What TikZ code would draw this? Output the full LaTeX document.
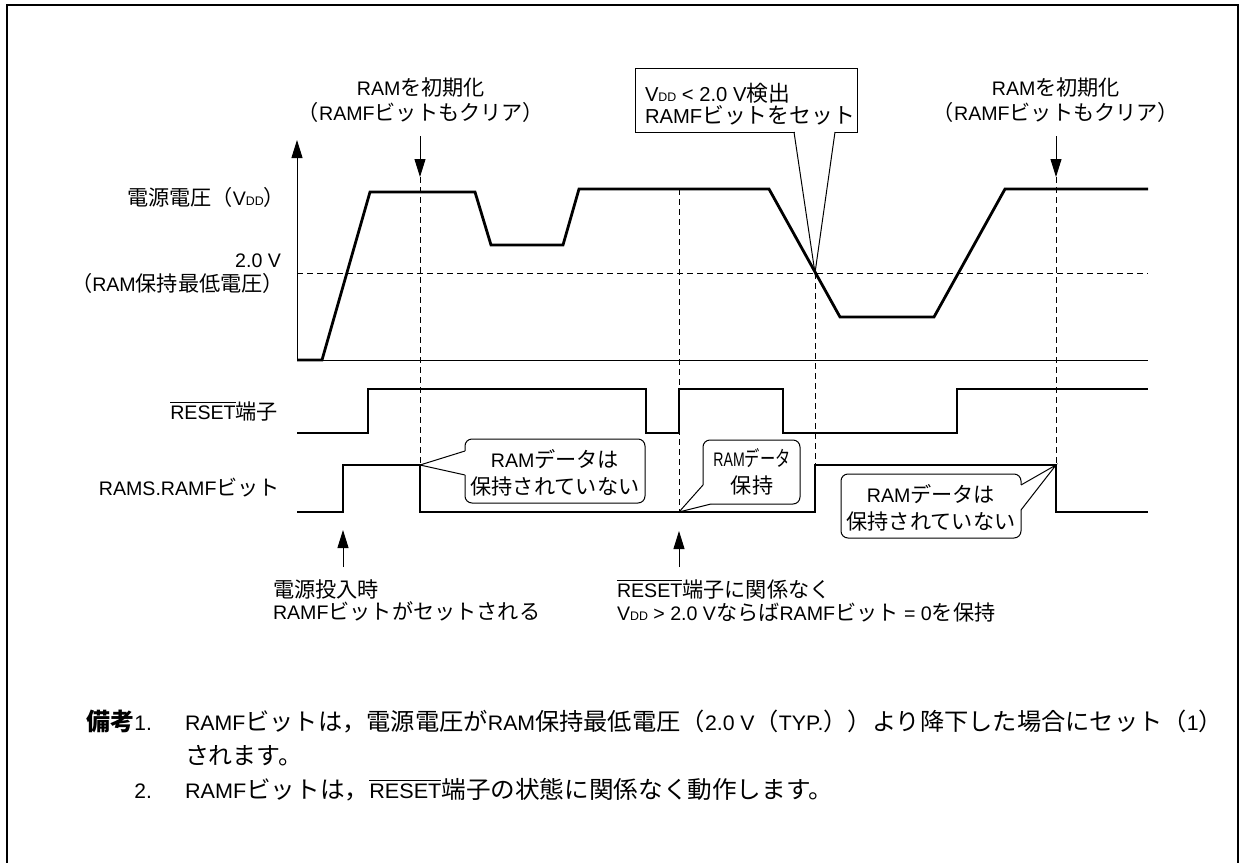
\documentclass[tikz,border=0pt]{standalone}
\usepackage{fontspec}
\usepackage{graphicx}
\setmainfont{Liberation Sans}
\newfontfamily\jpfont{Noto Sans CJK JP}[Scale=1.08]
\newfontfamily\jpfontN{Noto Sans CJK JP}[Scale=1.14]
\let\jpsel\jpfont
\usetikzlibrary{arrows.meta}
% automatic switch to the Japanese font for CJK characters
\XeTeXinterchartokenstate=1
\newXeTeXintercharclass\JPclass
\makeatletter
\def\jpsetrange#1#2{\count@=#1\relax
  \loop\XeTeXcharclass\count@=\JPclass\relax
  \ifnum\count@<#2\relax\advance\count@\@ne\repeat}
\jpsetrange{"3000}{"30FF}
\jpsetrange{"4E00}{"9FFF}
\jpsetrange{"FF00}{"FFEF}
\makeatother
\XeTeXinterchartoks 0 \JPclass = {\begingroup\jpsel}
\XeTeXinterchartoks 4095 \JPclass = {\begingroup\jpsel}
\XeTeXinterchartoks \JPclass 0 = {\endgroup}
\XeTeXinterchartoks \JPclass 4095 = {\endgroup}
\newcommand\ovl[1]{$\overline{\mbox{#1}}$}
\newcommand\vdd{V{\fontsize{6.2}{6}\selectfont DD}}
\begin{document}
\begin{tikzpicture}[x=0.5pt,y=-0.5pt,
  every node/.style={inner sep=0pt, outer sep=0pt},
  lab/.style={font=\fontsize{9.8}{11}\selectfont},
  biglab/.style={font=\fontsize{10.1}{12}\selectfont},
  note/.style={font={\fontsize{10.5}{13}\selectfont\let\jpsel\jpfontN}},
  wave/.style={line width=1.4pt, line join=miter},
  thinln/.style={line width=0.5pt},
  dashln/.style={line width=0.5pt, dash pattern=on 3pt off 2pt},
  arr/.style={line width=0.5pt, -{Triangle[length=9pt,width=5.5pt]}},
  bubble/.style={line width=0.5pt, rounded corners=3.5pt}]
\useasboundingbox (0,0) rectangle (1239,863);
% frame
\draw[line width=1.3pt] (7,880) -- (7,5) -- (1238,5) -- (1238,880);

% axis and reference lines
\coordinate (O) at (297,360);
\coordinate (ytop) at (297,140);
\coordinate (xend) at (1148,360);
\draw[arr] (O) -- (ytop);
\draw[thinln] (O) -- (xend);
\draw[dashln] (297,273) -- (1148,273);
\draw[dashln] (420,177) -- (420,465);
\draw[dashln] (679,189) -- (679,512);
\draw[dashln] (815,273) -- (815,465);
\draw[dashln] (1056,177) -- (1056,465);

% waveforms
\draw[wave] (297,360) -- (322,360) -- (370,192) -- (475,192) -- (491,245) -- (563,245) -- (579,189) -- (769,189) -- (840,317) -- (934,317) -- (1005,189) -- (1148,189);
\draw[wave] (297,433) -- (368,433) -- (368,389) -- (646,389) -- (646,433) -- (679,433) -- (679,389) -- (783,389) -- (783,433) -- (957,433) -- (957,389) -- (1148,389);
\draw[wave] (297,512) -- (343,512) -- (343,465) -- (420,465) -- (420,512) -- (815,512) -- (815,465) -- (1056,465) -- (1056,512) -- (1148,512);

% left labels
\node[lab, anchor=base east] (vddlab) at (285,205) {電源電圧（\vdd）};
\node[lab, anchor=base east] (v20) at (281,267) {2.0 V};
\node[lab, anchor=base east] (ramhold) at (284,291) {（RAM保持最低電圧）};
\node[lab, anchor=base east] (rstlab) at (278,419) {\ovl{RESET}端子};
\node[lab, anchor=base east] (ramflab) at (280,495) {RAMS.RAMFビット};

% top annotations
\node[lab, anchor=base] (initA1) at (421,95) {RAMを初期化};
\node[lab, anchor=base] (initA2) at (421,120) {（RAMFビットもクリア）};
\coordinate (a1s) at (420,136);
\coordinate (a1e) at (420,177);
\draw[arr] (a1s) -- (a1e);
\node[lab, anchor=base] (initB1) at (1056,95) {RAMを初期化};
\node[lab, anchor=base] (initB2) at (1056,120) {（RAMFビットもクリア）};
\coordinate (a2s) at (1056,136);
\coordinate (a2e) at (1056,177);
\draw[arr] (a2s) -- (a2e);

% detection callout
\draw[thinln] (635,68) rectangle (857,132);
\fill[white] (794.5,129) rectangle (834.5,135);
\coordinate (dettip) at (815,273);
\coordinate (detl) at (794,132);
\coordinate (detr) at (835,132);
\draw[thinln] (detl) -- (dettip) -- (detr);
\node[biglab, anchor=base west] (det1) at (645,101) {\vdd{} < 2.0 V検出};
\node[biglab, anchor=base west] (det2) at (645,123) {RAMFビットをセット};

% callout 1
\draw[bubble] (465,439) rectangle (645,503);
\fill[white] (462,451) rectangle (468,475);
\coordinate (c1tip) at (420,465);
\coordinate (c1a) at (465,451);
\coordinate (c1b) at (465,475);
\draw[thinln] (c1a) -- (c1tip) -- (c1b);
\node[lab, anchor=base] (c1t1) at (555,467) {RAMデータは};
\node[lab, anchor=base] (c1t2) at (555,494) {保持されていない};

% callout 2
\draw[bubble] (703,440) rectangle (800,504);
\fill[white] (700,485) rectangle (711,507);
\coordinate (c2tip) at (679,512);
\coordinate (c2a) at (703,485);
\coordinate (c2b) at (711,504);
\draw[thinln] (c2a) -- (c2tip) -- (c2b);
\node[lab, anchor=base] (c2t1) at (752,466) {\scalebox{0.72}[1]{RAMデータ}};
\node[lab, anchor=base] (c2t2) at (752,493) {保持};

% callout 3
\draw[bubble] (841,474) rectangle (1021,538);
\fill[white] (1018,485) rectangle (1024,510);
\coordinate (c3tip) at (1056,465);
\coordinate (c3a) at (1021,485);
\coordinate (c3b) at (1021,510);
\draw[thinln] (c3a) -- (c3tip) -- (c3b);
\node[lab, anchor=base] (c3t1) at (931,502) {RAMデータは};
\node[lab, anchor=base] (c3t2) at (931,529) {保持されていない};

% bottom annotations
\coordinate (u1s) at (343,567);
\coordinate (u1e) at (343,530);
\draw[arr] (u1s) -- (u1e);
\node[lab, anchor=base west] (pon1) at (273,597) {電源投入時};
\node[lab, anchor=base west] (pon2) at (273,619) {RAMFビットがセットされる};
\coordinate (u2s) at (679,567);
\coordinate (u2e) at (679,531);
\draw[arr] (u2s) -- (u2e);
\node[lab, anchor=base west] (keep1) at (617,597) {\ovl{RESET}端子に関係なく};
\node[lab, anchor=base west] (keep2) at (617,620) {\vdd{} > 2.0 VならばRAMFビット = 0を保持};

% notes
\node[note, anchor=base east] (bk) at (152,730) {{\bfseries 備考}1.};
\node[note, anchor=base west] (n1) at (185,730) {\resizebox{519pt}{\height}{RAMFビットは，電源電圧がRAM保持最低電圧（2.0 V（TYP.））より降下した場合にセット（1）}};
\node[note, anchor=base west] (n1b) at (185,764) {されます。};
\node[note, anchor=base east] (n2num) at (152,798) {2.};
\node[note, anchor=base west] (n2) at (185,798) {\resizebox{324pt}{\height}{RAMFビットは，\ovl{RESET}端子の状態に関係なく動作します。}};
\end{tikzpicture}
\end{document}
